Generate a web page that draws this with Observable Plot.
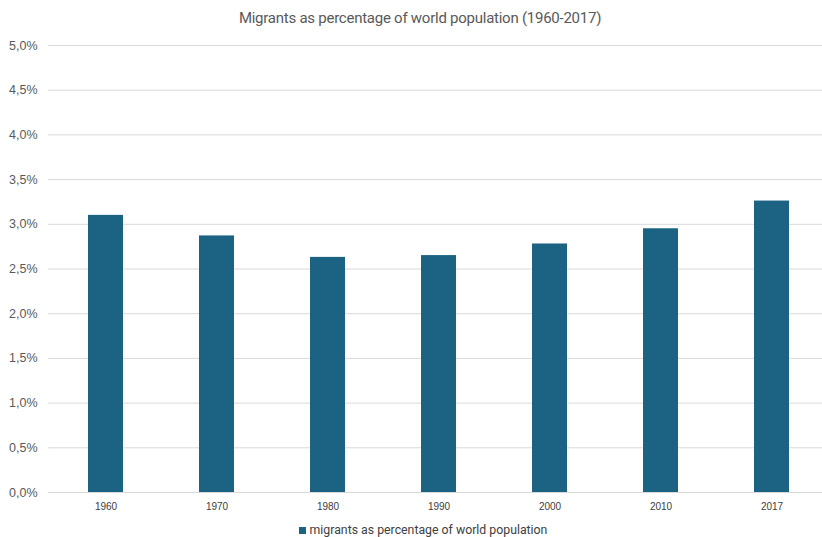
<!DOCTYPE html>
<html>
<head>
<meta charset="utf-8">
<script src="https://cdn.jsdelivr.net/npm/d3@7"></script>
<script src="https://cdn.jsdelivr.net/npm/@observablehq/plot@0.6"></script>
<style>
  html, body { margin: 0; padding: 0; background: #fff; overflow: hidden; }
  #wrap { position: relative; width: 822px; height: 537px; overflow: hidden; }
  #title { position: absolute; left: 0; top: 9px; width: 840px; text-align: center;
    font-family: Roboto, "Liberation Sans", sans-serif; font-size: 15px; letter-spacing: -0.25px; color: #595959; }
  #chart { position: absolute; left: 0; top: 36px; width: 828px; }
  #chart svg { max-width: none !important; }
  #legend { position: absolute; left: 0; top: 522px; width: 846px; text-align: center;
    font-family: Roboto, "Liberation Sans", sans-serif; font-size: 12.3px; color: #404040; line-height: 16px; }
  #legend .sw { display: inline-block; width: 7px; height: 7px; background: #1b6283; margin-right: 4px; vertical-align: 0px; }
</style>
</head>
<body>
<div id="wrap">
  <div id="title">Migrants as percentage of world population (1960-2017)</div>
  <div id="chart"></div>
  <div id="legend"><span class="sw"></span>migrants as percentage of world population</div>
</div>
<script>
const years = ["1960", "1970", "1980", "1990", "2000", "2010", "2017"];
const shares = [3.10, 2.87, 2.63, 2.65, 2.78, 2.95, 3.26];
const yTicks = [0, 0.5, 1, 1.5, 2, 2.5, 3, 3.5, 4, 4.5, 5];
const seriesName = "migrants as percentage of world population";

const data = years.map((y, i) => ({year: y, value: shares[i], series: seriesName}));
const fmt = d => d.toFixed(1).replace(".", ",") + "%";

const chart = Plot.plot({
  width: 828,
  height: 480,
  marginTop: 9,
  marginBottom: 24,
  marginLeft: 48,
  marginRight: 0,
  style: {fontFamily: "Liberation Sans, Arial, sans-serif", color: "#595959"},
  x: {domain: years, paddingInner: 0.686, paddingOuter: 0.343, label: null},
  y: {domain: [0, 5], label: null},
  marks: [
    Plot.gridY(yTicks, {stroke: "#d9d9d9", strokeOpacity: 1, strokeWidth: 1}),
    Plot.barY(data, {x: "year", y: "value", fill: "#1b6283"}),
    Plot.axisY(yTicks, {tickSize: 0, tickPadding: 11, tickFormat: fmt, fontSize: 12.5, label: null, fill: "#595959"}),
    Plot.axisX({tickSize: 0, tickPadding: 10, fontSize: 10, label: null, fill: "#404040"})
  ]
});
chart.style.maxWidth = "none";
document.getElementById("chart").appendChild(chart);
</script>
</body>
</html>
